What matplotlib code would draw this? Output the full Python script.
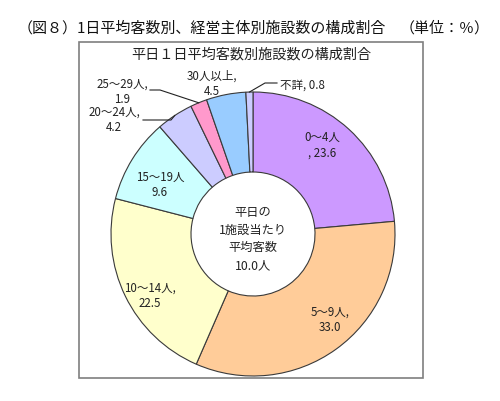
import matplotlib
matplotlib.use("Agg")
import numpy as np
import matplotlib.pyplot as plt
from matplotlib.patches import Rectangle

plt.rcParams['font.family'] = ['Noto Sans CJK JP', 'DejaVu Sans']

# ---- data ----
categories = ["0～4人", "5～9人", "10～14人", "15～19人", "20～24人", "25～29人", "30人以上", "不詳"]
values = [23.6, 33.0, 22.5, 9.6, 4.2, 1.9, 4.5, 0.8]
label_texts = ["0～4人\n, 23.6", "5～9人,\n33.0", "10～14人,\n22.5", "15～19人\n9.6",
               "20～24人,\n4.2", "25～29人,\n1.9", "30人以上,\n4.5", "不詳, 0.8"]
colors = ["#CC99FF", "#FFCC99", "#FFFFCC", "#CCFFFF", "#CCCCFF", "#FF99CC", "#99CCFF", "#CCCCFF"]
title_text = "（図８）1日平均客数別、経営主体別施設数の構成割合"
unit_text = "（単位：％）"
subtitle_text = "平日１日平均客数別施設数の構成割合"
center_text = "平日の\n1施設当たり\n平均客数\n10.0人"

# ---- layout (pixel space, y measured from top) ----
W, H = 500, 402
cx, cy_top, R, R_in = 253, 235, 142, 62
label_pos = [(322, 145), (330, 320), (150, 296), (160, 185),
             (114, 120), (122, 92), (212, 84), (302, 85)]
label_ha = ["center"] * 8
leader_knees = {4: [(143, 121), (171, 121)],
                5: [(150, 91), (160, 91)],
                7: [(277, 84), (265, 84)]}

fig = plt.figure(figsize=(W / 100, H / 100), dpi=100)
ax = fig.add_axes([0, 0, 1, 1])

def Y(y):
    return H - y

wedges, _ = ax.pie(values, colors=colors, startangle=90, counterclock=False,
                   center=(cx, Y(cy_top)), radius=R,
                   wedgeprops=dict(width=R - R_in, edgecolor="#3a3a3a", linewidth=0.8))
ax.set_xlim(0, W)
ax.set_ylim(0, H)
ax.set_aspect("equal")
ax.axis("off")

# frame
ax.add_patch(Rectangle((79, Y(379)), 423 - 79, 379 - 43, fill=False,
                       edgecolor="#7f7f7f", linewidth=1.2, zorder=0))

# labels
for i, (txt, (lx, ly)) in enumerate(zip(label_texts, label_pos)):
    ax.text(lx, Y(ly), txt, ha=label_ha[i], va="center", fontsize=8.3,
            linespacing=1.25, color="#222222")

# leader lines to the wedge outer edge (computed from wedge angles)
for i, knees in leader_knees.items():
    w = wedges[i]
    mid = np.deg2rad((w.theta1 + w.theta2) / 2)
    px = cx + R * np.cos(mid)
    py = Y(cy_top) + R * np.sin(mid)
    xs = [k[0] for k in knees] + [px]
    ys = [Y(k[1]) for k in knees] + [py]
    ax.plot(xs, ys, color="#222222", linewidth=0.8)

# centre text
ax.text(cx, Y(239), center_text, ha="center", va="center", fontsize=8.8,
        linespacing=1.45, color="#222222")

# titles
ax.text(18, Y(28), title_text, ha="left", va="center", fontsize=10.8, color="#111111")
ax.text(490, Y(28), unit_text, ha="right", va="center", fontsize=10.8, color="#111111")
ax.text(251, Y(55), subtitle_text, ha="center", va="center", fontsize=10.2, color="#222222")

fig.savefig("out.png", dpi=100)
